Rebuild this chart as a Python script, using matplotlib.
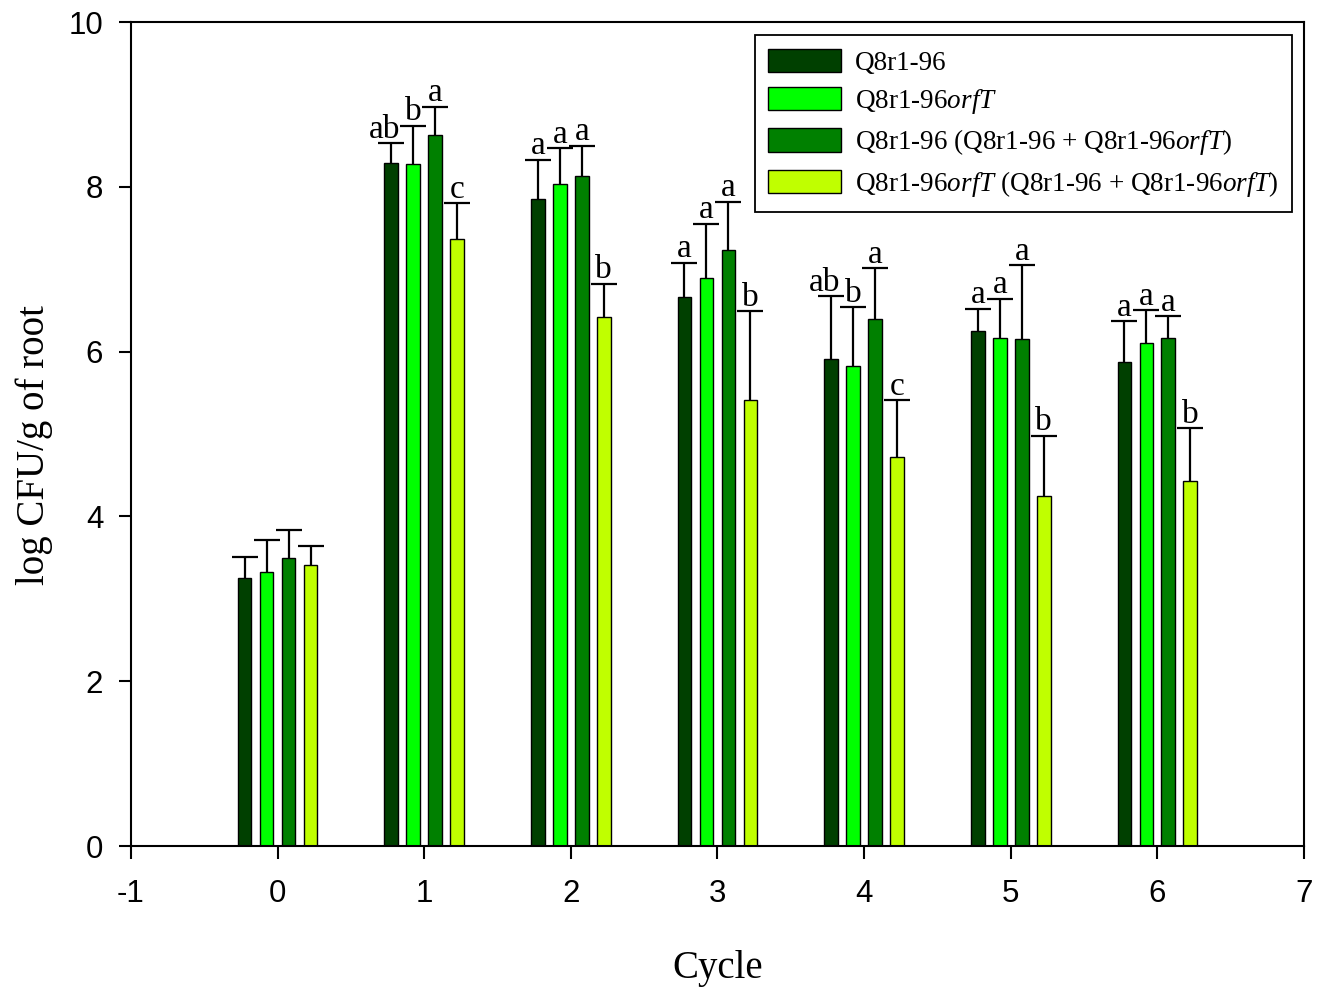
#!/usr/bin/env python3
"""Root colonisation of Q8r1-96 and the orfT mutant over cycles."""

import numpy as np
import matplotlib

matplotlib.use("Agg")
import matplotlib.pyplot as plt

plt.rcParams["mathtext.fontset"] = "custom"
plt.rcParams["mathtext.rm"] = "Liberation Serif"
plt.rcParams["mathtext.it"] = "Liberation Serif:italic"
plt.rcParams["axes.unicode_minus"] = False

cycles = [0, 1, 2, 3, 4, 5, 6]
series_labels = [
    "Q8r1-96",
    "Q8r1-96$\\mathit{orfT}$",
    "Q8r1-96 (Q8r1-96 + Q8r1-96$\\mathit{orfT}$)",
    "Q8r1-96$\\mathit{orfT}$ (Q8r1-96 + Q8r1-96$\\mathit{orfT}$)",
]
colors = ["#004000", "#00ff00", "#008000", "#c0ff00"]

wt_mean = [3.25, 8.29, 7.85, 6.66, 5.91, 6.25, 5.87]
orft_mean = [3.33, 8.28, 8.03, 6.89, 5.83, 6.17, 6.10]
wt_mix_mean = [3.50, 8.63, 8.13, 7.23, 6.40, 6.15, 6.17]
orft_mix_mean = [3.41, 7.37, 6.42, 5.41, 4.72, 4.25, 4.43]

wt_err = [0.26, 0.24, 0.48, 0.42, 0.76, 0.27, 0.50]
orft_err = [0.38, 0.46, 0.44, 0.66, 0.71, 0.47, 0.40]
wt_mix_err = [0.33, 0.34, 0.37, 0.59, 0.61, 0.90, 0.26]
orft_mix_err = [0.23, 0.43, 0.40, 1.08, 0.69, 0.73, 0.64]

wt_letters = ["", "ab", "a", "a", "ab", "a", "a"]
orft_letters = ["", "b", "a", "a", "b", "a", "a"]
wt_mix_letters = ["", "a", "a", "a", "a", "a", "a"]
orft_mix_letters = ["", "c", "b", "b", "c", "b", "b"]

means = [wt_mean, orft_mean, wt_mix_mean, orft_mix_mean]
errs = [wt_err, orft_err, wt_mix_err, orft_mix_err]
letters = [wt_letters, orft_letters, wt_mix_letters, orft_mix_letters]

fig = plt.figure(figsize=(13.2, 9.96), dpi=100)
ax = fig.add_axes([0.0992, 0.1506, 0.8887, 0.8273])

x = np.array(cycles, dtype=float)
bar_w = 0.094
for i in range(4):
    pos = x + (i - 1.5) * 0.15
    ax.bar(pos, means[i], width=bar_w, color=colors[i], edgecolor="black",
           linewidth=1.0, label=series_labels[i], zorder=2)
    _, caps, _ = ax.errorbar(pos, means[i], yerr=[np.zeros(len(x)), errs[i]],
                             fmt="none", ecolor="black", elinewidth=1.6,
                             capsize=9.5, capthick=1.6, zorder=3)
    caps[0].set_visible(False)  # only the upper cap
    for p, m, e, lab in zip(pos, means[i], errs[i], letters[i]):
        if lab:
            dx = -5 if len(lab) > 1 else 0  # two-letter labels sit a bit left
            ax.annotate(lab, (p, m + e), xytext=(dx, 4), textcoords="offset points",
                        ha="center", va="baseline", fontsize=24,
                        family="Liberation Serif")

ax.set_xlim(-1, 7)
ax.set_ylim(0, 10)
ax.set_xticks(range(-1, 8))
ax.set_yticks(range(0, 11, 2))
ax.tick_params(direction="out", length=9, width=1.5, labelsize=22.5, top=False, right=False)
ax.tick_params(axis="x", pad=15)
ax.tick_params(axis="y", pad=11)
for lab in ax.get_xticklabels() + ax.get_yticklabels():
    lab.set_family("Liberation Sans")
for sp in ax.spines.values():
    sp.set_linewidth(1.5)

ax.set_xlabel("Cycle", fontsize=28, family="Liberation Serif", labelpad=29)
ax.set_ylabel("log CFU/g of root", fontsize=28, family="Liberation Serif", labelpad=11)
ax.yaxis.label.set_y(0.487)

leg = ax.legend(loc="upper right", bbox_to_anchor=(0.9898, 0.9842), borderaxespad=0,
                prop={"family": "Liberation Serif", "size": 19.5}, fancybox=False,
                framealpha=1, edgecolor="black", handlelength=2.7, handleheight=0.95,
                handletextpad=0.5, labelspacing=0.42, borderpad=0.5)
leg.get_frame().set_linewidth(1.3)

fig.savefig("out.png", dpi=100)
